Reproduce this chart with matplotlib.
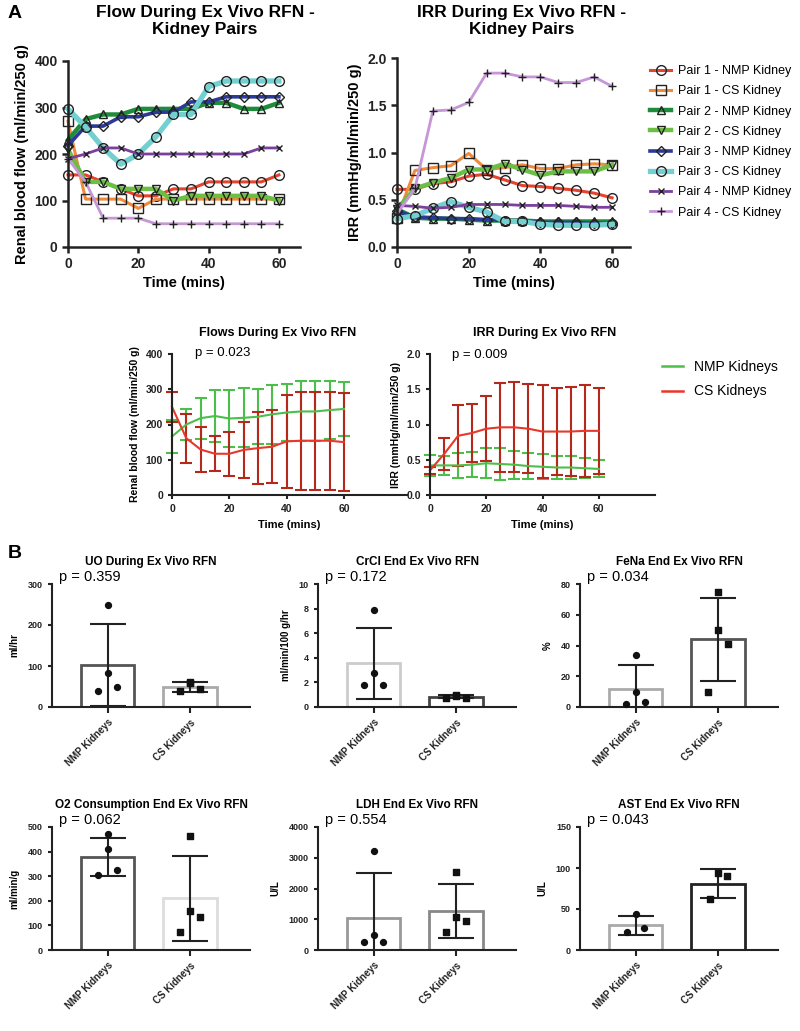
import numpy as np
import matplotlib
matplotlib.use('Agg')
import matplotlib.pyplot as plt

plt.rcParams['font.family'] = ['Liberation Sans', 'DejaVu Sans']

W, H = 800, 1031

# ---- Data ----
time = [0, 5, 10, 15, 20, 25, 30, 35, 40, 45, 50, 55, 60]

pair_labels = ['Pair 1 - NMP Kidney', 'Pair 1 - CS Kidney',
               'Pair 2 - NMP Kidney', 'Pair 2 - CS Kidney',
               'Pair 3 - NMP Kidney', 'Pair 3 - CS Kidney',
               'Pair 4 - NMP Kidney', 'Pair 4 - CS Kidney']

# renal blood flow, ml/min/250 g
flow_p1_nmp = [155, 155, 140, 125, 110, 110, 125, 125, 140, 140, 140, 140, 155]
flow_p1_cs = [270, 103, 103, 103, 83, 103, 103, 103, 103, 103, 103, 103, 103]
flow_p2_nmp = [230, 275, 285, 285, 297, 297, 297, 297, 310, 310, 297, 297, 310]
flow_p2_cs = [210, 140, 140, 125, 125, 125, 100, 110, 110, 110, 110, 110, 100]
flow_p3_nmp = [218, 260, 260, 280, 280, 290, 290, 312, 312, 323, 323, 323, 323]
flow_p3_cs = [297, 258, 213, 178, 200, 237, 285, 285, 345, 357, 357, 357, 357]
flow_p4_nmp = [190, 200, 213, 213, 200, 200, 200, 200, 200, 200, 200, 213, 213]
flow_p4_cs = [190, 140, 62, 62, 62, 50, 50, 50, 50, 50, 50, 50, 50]

# intrarenal resistance, mmHg/ml/min/250 g
irr_p1_nmp = [0.61, 0.61, 0.67, 0.69, 0.75, 0.77, 0.71, 0.65, 0.64, 0.62, 0.60, 0.57, 0.52]
irr_p1_cs = [0.31, 0.81, 0.84, 0.86, 0.99, 0.82, 0.84, 0.87, 0.83, 0.83, 0.87, 0.88, 0.87]
irr_p2_nmp = [0.40, 0.31, 0.30, 0.30, 0.29, 0.28, 0.28, 0.28, 0.27, 0.27, 0.27, 0.27, 0.27]
irr_p2_cs = [0.40, 0.62, 0.68, 0.73, 0.82, 0.82, 0.88, 0.82, 0.76, 0.80, 0.80, 0.80, 0.87]
irr_p3_nmp = [0.38, 0.32, 0.31, 0.30, 0.30, 0.29, 0.28, 0.28, 0.26, 0.26, 0.26, 0.25, 0.25]
irr_p3_cs = [0.30, 0.33, 0.41, 0.48, 0.42, 0.37, 0.27, 0.27, 0.24, 0.23, 0.23, 0.23, 0.24]
irr_p4_nmp = [0.44, 0.43, 0.41, 0.42, 0.45, 0.45, 0.45, 0.44, 0.44, 0.44, 0.43, 0.42, 0.42]
irr_p4_cs = [0.35, 0.62, 1.44, 1.45, 1.53, 1.84, 1.84, 1.80, 1.80, 1.74, 1.74, 1.80, 1.70]

flow_series = [flow_p1_nmp, flow_p1_cs, flow_p2_nmp, flow_p2_cs,
               flow_p3_nmp, flow_p3_cs, flow_p4_nmp, flow_p4_cs]
irr_series = [irr_p1_nmp, irr_p1_cs, irr_p2_nmp, irr_p2_cs,
              irr_p3_nmp, irr_p3_cs, irr_p4_nmp, irr_p4_cs]

# group means +/- SD
flow_nmp_mean = [166, 200, 218, 224, 217, 219, 222, 229, 234, 237, 237, 241, 244]
flow_nmp_sd = [48, 43, 58, 74, 82, 84, 78, 84, 82, 85, 85, 81, 76]
flow_cs_mean = [250, 161, 129, 117, 117, 128, 133, 137, 152, 154, 154, 154, 150]
flow_cs_sd = [42, 69, 64, 49, 62, 80, 103, 103, 131, 139, 139, 139, 140]
irr_nmp_mean = [0.42, 0.42, 0.42, 0.43, 0.45, 0.44, 0.43, 0.41, 0.40, 0.39, 0.39, 0.38, 0.37]
irr_nmp_sd = [0.15, 0.13, 0.18, 0.18, 0.21, 0.23, 0.20, 0.18, 0.18, 0.16, 0.16, 0.14, 0.12]
irr_cs_mean = [0.35, 0.58, 0.84, 0.88, 0.94, 0.96, 0.96, 0.94, 0.90, 0.90, 0.90, 0.91, 0.91]
irr_cs_sd = [0.05, 0.23, 0.43, 0.41, 0.46, 0.63, 0.64, 0.63, 0.66, 0.62, 0.63, 0.65, 0.61]

groups = ['NMP Kidneys', 'CS Kidneys']

uo_mean, uo_sd = [103, 48], [100, 12]
uo_nmp, uo_cs = [250, 82, 50, 38], [60, 58, 45, 38]
crcl_mean, crcl_sd = [3.55, 0.85], [2.9, 0.15]
crcl_nmp, crcl_cs = [7.9, 2.8, 1.8, 1.8], [1.0, 0.9, 0.75, 0.7]
fena_mean, fena_sd = [12, 44], [15, 27]
fena_nmp, fena_cs = [34, 10, 3, 2], [75, 50, 41, 10]
o2_mean, o2_sd = [377, 210], [77, 173]
o2_nmp, o2_cs = [470, 410, 325, 305], [465, 160, 135, 75]
ldh_mean, ldh_sd = [1050, 1270], [1470, 870]
ldh_nmp, ldh_cs = [3230, 500, 260, 260], [2540, 1060, 930, 590]
ast_mean, ast_sd = [30, 81], [12, 18]
ast_nmp, ast_cs = [44, 27, 22], [94, 90, 62]


# ---- helpers ----
def px_axes(fig, left, top, right, bottom):
    return fig.add_axes([left / W, 1 - bottom / H, (right - left) / W, (bottom - top) / H])


def ftext(fig, x, y, s, **kw):
    return fig.text(x / W, 1 - y / H, s, **kw)


def style_axes(ax, lw=1.5, tsize=9, bold=True):
    for side in ['top', 'right']:
        ax.spines[side].set_visible(False)
    for side in ['left', 'bottom']:
        ax.spines[side].set_linewidth(lw)
        ax.spines[side].set_color('#222222')
    ax.tick_params(width=lw, length=4, labelsize=tsize, colors='#222222')
    for lab in ax.get_xticklabels() + ax.get_yticklabels():
        lab.set_fontweight('bold' if bold else 'normal')


fig = plt.figure(figsize=(W / 100, H / 100), dpi=100)

# ---- A: kidney pairs ----
pair_styles = [
    ('#e5432d', 'o', 2.2, 7),
    ('#f08a3c', 's', 2.2, 7),
    ('#1e8c3a', '^', 3.2, 6),
    ('#6cbf45', 'v', 3.2, 6),
    ('#2b3a98', 'D', 2.6, 5),
    ('#73d0d0', 'o', 3.8, 7),
    ('#7b3f9e', 'x', 2.0, 5),
    ('#c597d6', '+', 2.0, 6),
]

ax1 = px_axes(fig, 68, 61, 300, 247)
ax2 = px_axes(fig, 397, 58, 630, 247)
handles = []
for vals, lab, (c, m, lw, ms) in zip(flow_series, pair_labels, pair_styles):
    h, = ax1.plot(time, vals, color=c, lw=lw, marker=m, ms=ms, mfc='none',
                  mec='#222222', mew=1.0, label=lab, clip_on=False)
    handles.append(h)
for vals, (c, m, lw, ms) in zip(irr_series, pair_styles):
    ax2.plot(time, vals, color=c, lw=lw, marker=m, ms=ms, mfc='none',
             mec='#222222', mew=1.0, clip_on=False)

ax1.set_xlim(0, 66)
ax1.set_ylim(0, 400)
ax1.set_xticks([0, 20, 40, 60])
ax1.set_yticks([0, 100, 200, 300, 400])
ax2.set_xlim(0, 65)
ax2.set_ylim(0, 2.0)
ax2.set_xticks([0, 20, 40, 60])
ax2.set_yticks([0.0, 0.5, 1.0, 1.5, 2.0])
ax2.yaxis.set_major_formatter(matplotlib.ticker.FormatStrFormatter('%.1f'))
for ax in (ax1, ax2):
    style_axes(ax, lw=1.8, tsize=10)
    ax.set_xlabel('Time (mins)', fontsize=10.5, fontweight='bold', labelpad=3)
ax1.set_ylabel('Renal blood flow (ml/min/250 g)', fontsize=10.5, fontweight='bold', labelpad=4)
ax2.set_ylabel('IRR (mmHg/ml/min/250 g)', fontsize=10.5, fontweight='bold', labelpad=4)

ftext(fig, 8, 14, 'A', fontsize=14, fontweight='bold', va='center')
ftext(fig, 205, 21, 'Flow During Ex Vivo RFN -\nKidney Pairs', fontsize=12.5,
      fontweight='bold', ha='center', va='center', linespacing=1.2)
ftext(fig, 522, 21, 'IRR During Ex Vivo RFN -\nKidney Pairs', fontsize=12.5,
      fontweight='bold', ha='center', va='center', linespacing=1.2)

fig.legend(handles=handles, loc='upper left', bbox_to_anchor=(650 / W, 1 - 65 / H),
           frameon=False, fontsize=9, labelspacing=0.66, handlelength=1.7,
           handletextpad=0.5, borderaxespad=0, borderpad=0)

# ---- A: group means ----
green, red, dred = '#4cbf4a', '#e8382b', '#b5281c'
ax3 = px_axes(fig, 172, 354, 407, 495)
ax4 = px_axes(fig, 430, 354, 655, 495)

ax3.errorbar(time, flow_nmp_mean, yerr=flow_nmp_sd, color=green, ecolor=green,
             lw=1.5, elinewidth=1.5, capsize=4, capthick=1.5, clip_on=False)
ax3.errorbar(time, flow_cs_mean, yerr=flow_cs_sd, color=red, ecolor=dred,
             lw=1.5, elinewidth=1.5, capsize=4, capthick=1.5, clip_on=False)
ax4.errorbar(time, irr_nmp_mean, yerr=irr_nmp_sd, color=green, ecolor=green,
             lw=1.5, elinewidth=1.5, capsize=4, capthick=1.5, clip_on=False)
ax4.errorbar(time, irr_cs_mean, yerr=irr_cs_sd, color=red, ecolor=dred,
             lw=1.5, elinewidth=1.5, capsize=4, capthick=1.5, clip_on=False)

ax3.set_xlim(0, 82)
ax3.set_ylim(0, 400)
ax3.set_yticks([0, 100, 200, 300, 400])
ax4.set_xlim(0, 80)
ax4.set_ylim(0, 2.0)
ax4.set_yticks([0.0, 0.5, 1.0, 1.5, 2.0])
ax4.yaxis.set_major_formatter(matplotlib.ticker.FormatStrFormatter('%.1f'))
for ax in (ax3, ax4):
    ax.set_xticks([0, 20, 40, 60])
    style_axes(ax, lw=1.5, tsize=7.5)
    ax.tick_params(length=3)
    ax.set_xlabel('Time (mins)', fontsize=8, fontweight='bold', labelpad=4)
ax3.set_ylabel('Renal blood flow (ml/min/250 g)', fontsize=7.5, fontweight='bold', labelpad=4)
ax4.set_ylabel('IRR (mmHg/ml/min/250 g)', fontsize=7.5, fontweight='bold', labelpad=4)

ftext(fig, 278, 333, 'Flows During Ex Vivo RFN', fontsize=9, fontweight='bold', ha='center', va='center')
ftext(fig, 545, 333, 'IRR During Ex Vivo RFN', fontsize=9, fontweight='bold', ha='center', va='center')
ftext(fig, 195, 353, 'p = 0.023', fontsize=9.5, va='center')
ftext(fig, 452, 355, 'p = 0.009', fontsize=9.5, va='center')

leg_h = [plt.Line2D([], [], color=green, lw=1.8), plt.Line2D([], [], color=red, lw=1.8)]
fig.legend(leg_h, groups, loc='upper left', bbox_to_anchor=(662 / W, 1 - 360 / H),
           frameon=False, fontsize=10, labelspacing=0.75, handlelength=1.5,
           handletextpad=0.8, borderaxespad=0, borderpad=0)

# ---- B: end-point bars ----
ftext(fig, 8, 553, 'B', fontsize=14, fontweight='bold', va='center')


def bar_panel(left, top, means, sds, nmp_pts, cs_pts, edges, ymax, ystep,
              ylabel, title, pval, bottom_px):
    ax = px_axes(fig, left, top, left + 198, bottom_px)
    ax.bar([0, 1], means, width=0.65, color='white', edgecolor=edges, linewidth=2.0, zorder=1)
    ax.errorbar([0, 1], means, yerr=sds, fmt='none', ecolor='#222222',
                elinewidth=1.5, capsize=13, capthick=1.5, zorder=3)
    dx4 = [0.0, 0.0, 0.12, -0.12]
    dx3 = [0.0, 0.1, -0.1]
    for xc, pts, mk in ((0, nmp_pts, 'o'), (1, cs_pts, 's')):
        dx = dx4 if len(pts) == 4 else dx3
        ax.scatter([xc + d for d in dx], pts, marker=mk, s=18, color='#111111',
                   zorder=4, clip_on=False)
    ax.set_xlim(-0.67, 1.72)
    ax.set_ylim(0, ymax)
    ax.set_yticks(np.arange(0, ymax + ystep / 2, ystep))
    ax.set_xticks([0, 1])
    ax.set_xticklabels(groups)
    style_axes(ax, lw=1.5, tsize=6.5)
    ax.tick_params(axis='y', length=3)
    ax.tick_params(axis='x', length=4, labelsize=7)
    for lab in ax.get_xticklabels():
        lab.set_rotation(45)
        lab.set_ha('right')
        lab.set_rotation_mode('anchor')
    ax.set_ylabel(ylabel, fontsize=7, fontweight='bold', labelpad=6)
    ftext(fig, left + 99, top - 22, title, fontsize=8.5, fontweight='bold',
          ha='center', va='center')
    ftext(fig, left + 7, top - 7, pval, fontsize=10.5, va='center')
    return ax


row1_top, row1_bot = 584, 707
row2_top, row2_bot = 827, 950
bar_panel(52, row1_top, uo_mean, uo_sd, uo_nmp, uo_cs, ['#555555', '#aaaaaa'],
          300, 100, 'ml/hr', 'UO During Ex Vivo RFN', 'p = 0.359', row1_bot)
bar_panel(318, row1_top, crcl_mean, crcl_sd, crcl_nmp, crcl_cs, ['#cccccc', '#444444'],
          10, 2, 'ml/min/100 g/hr', 'CrCl End Ex Vivo RFN', 'p = 0.172', row1_bot)
bar_panel(580, row1_top, fena_mean, fena_sd, fena_nmp, fena_cs, ['#aaaaaa', '#555555'],
          80, 20, '%', 'FeNa End Ex Vivo RFN', 'p = 0.034', row1_bot)
bar_panel(52, row2_top, o2_mean, o2_sd, o2_nmp, o2_cs, ['#555555', '#dddddd'],
          500, 100, 'ml/min/g', 'O2 Consumption End Ex Vivo RFN', 'p = 0.062', row2_bot)
bar_panel(318, row2_top, ldh_mean, ldh_sd, ldh_nmp, ldh_cs, ['#999999', '#888888'],
          4000, 1000, 'U/L', 'LDH End Ex Vivo RFN', 'p = 0.554', row2_bot)
bar_panel(580, row2_top, ast_mean, ast_sd, ast_nmp, ast_cs, ['#aaaaaa', '#222222'],
          150, 50, 'U/L', 'AST End Ex Vivo RFN', 'p = 0.043', row2_bot)

fig.savefig('out.png', dpi=100)
